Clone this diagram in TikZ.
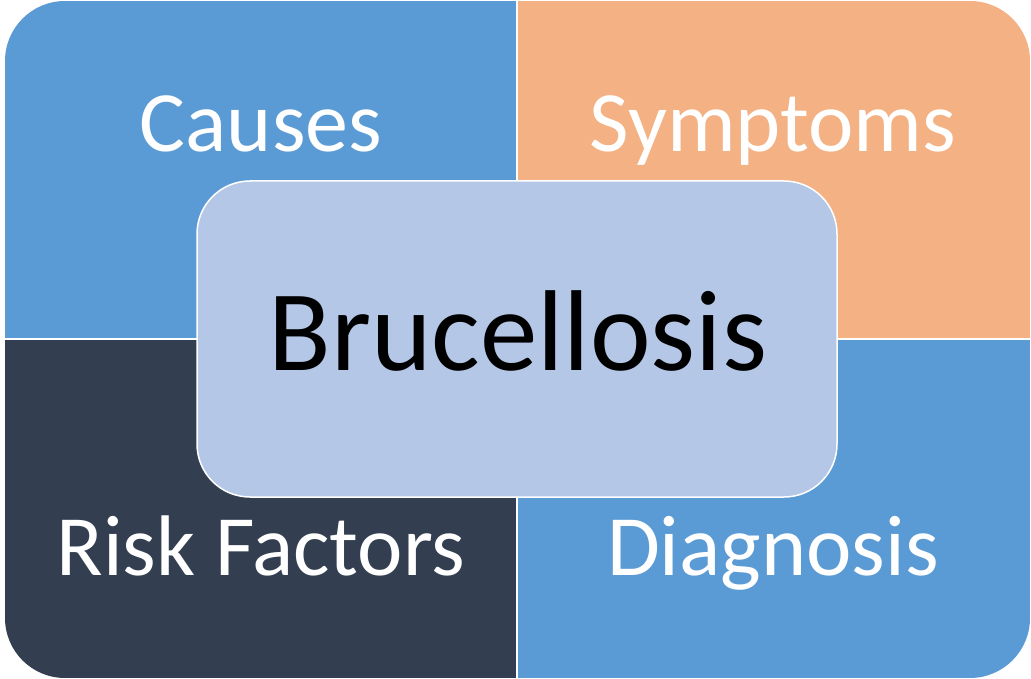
\documentclass[tikz,border=0pt]{standalone}
\usepackage{fontspec}
\setmainfont{Carlito}
\definecolor{qblue}{HTML}{5B9BD5}
\definecolor{qorange}{HTML}{F4B183}
\definecolor{qdark}{HTML}{333F50}
\definecolor{qlight}{HTML}{B4C7E7}
\tikzset{
  quadlabel/.style={text=white, font=\fontsize{86}{90}\selectfont, anchor=base, inner sep=0pt},
  centerbox/.style={fill=qlight, draw=white, line width=1.5pt, rounded corners=53pt},
}
\begin{document}
\begin{tikzpicture}[x=1pt,y=-1pt]
\useasboundingbox (0,0) rectangle (1031,679);
\fill[white] (0,0) rectangle (1031,679);
\begin{scope}
  \clip[rounded corners=60pt] (5,1) rectangle (1030,678);
  \fill[qblue] (5,1) rectangle (516.3,338.3);
  \fill[qorange] (517.7,1) rectangle (1030,338.3);
  \fill[qdark] (5,339.7) rectangle (516.3,678);
  \fill[qblue] (517.7,339.7) rectangle (1030,678);
\end{scope}
\node[quadlabel] (causes) at (261,152) {Causes};
\node[quadlabel] (symptoms) at (773,152) {Symptoms};
\node[quadlabel] (risk) at (261,575) {Risk Factors};
\node[quadlabel] (diag) at (773,575) {Diagnosis};
\filldraw[centerbox] (197,181) rectangle (837,497);
\node[font=\fontsize{115}{120}\selectfont, inner sep=0pt, anchor=base] (bru) at (518,370) {Brucellosis};
\end{tikzpicture}
\end{document}
